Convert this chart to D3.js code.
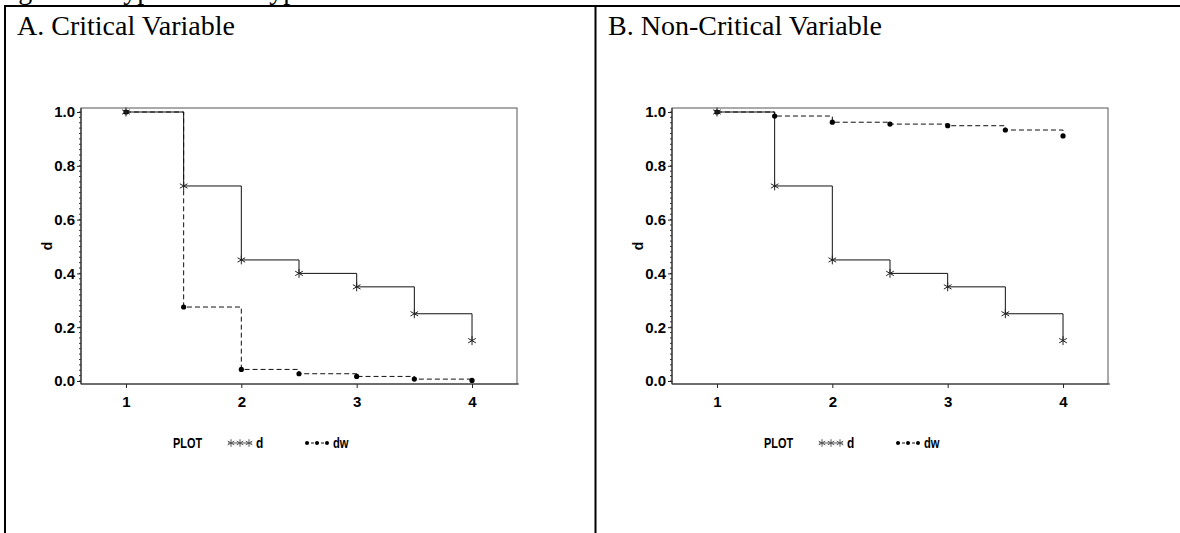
<!DOCTYPE html>
<html>
<head>
<meta charset="utf-8">
<script src="https://cdn.jsdelivr.net/npm/d3@7"></script>
<style>
  html, body { margin: 0; padding: 0; background: #fff; }
  svg { display: block; }
</style>
</head>
<body>
<svg id="chart" width="1180" height="533"></svg>
<script>
// ---- data ----
const xValues = [1, 1.5, 2, 2.5, 3, 3.5, 4];
const dValues = [1.0, 0.725, 0.45, 0.40, 0.35, 0.25, 0.15];
const dwCritical = [1.0, 0.275, 0.043, 0.027, 0.017, 0.007, 0.002];
const dwNonCritical = [1.0, 0.985, 0.962, 0.955, 0.949, 0.933, 0.911];
const xTicks = [1, 2, 3, 4];
const yTicks = [0, 0.2, 0.4, 0.6, 0.8, 1.0];
const yMinorTicks = d3.range(0, 51).map(i => i / 50);
const panelTitles = ["A. Critical Variable", "B. Non-Critical Variable"];
const captionText = "Figure 1. Hypothetical Type Plots of d and dw";
const yLabel = "d";
const legendTitle = "PLOT";
const seriesNames = ["d", "dw"];

const svg = d3.select("#chart");

// cut-off caption at the very top
svg.append("text")
  .attr("x", -5).attr("y", -1)
  .attr("font-family", "'Liberation Serif', 'Times New Roman', serif")
  .attr("font-size", 28)
  .text(captionText);

// table borders
const border = svg.append("g").attr("stroke", "#000").attr("stroke-width", 2).attr("fill", "none");
border.append("line").attr("x1", 4).attr("x2", 1180).attr("y1", 6).attr("y2", 6);
border.append("line").attr("x1", 5).attr("x2", 5).attr("y1", 5).attr("y2", 533);
border.append("line").attr("x1", 595.5).attr("x2", 595.5).attr("y1", 5).attr("y2", 533);

const panels = [
  { title: panelTitles[0], dw: dwCritical, off: 0 },
  { title: panelTitles[1], dw: dwNonCritical, off: 591 }
];

const plotW = 436, plotH = 276;
const x = d3.scaleLinear().domain([0.61, 4.39]).range([0, plotW]);
const y = d3.scaleLinear().domain([0, 1]).range([273, 4]);

const sansFont = "'Liberation Sans', Arial, Helvetica, sans-serif";
const starSym = d3.symbol(d3.symbolAsterisk, 55);

panels.forEach(p => {
  // panel title
  svg.append("text")
    .attr("x", 17 + p.off).attr("y", 35)
    .attr("font-family", "'Liberation Serif', 'Times New Roman', serif")
    .attr("font-size", 28)
    .text(p.title);

  const g = svg.append("g").attr("transform", `translate(${81 + p.off},108)`);

  // frame
  g.append("rect")
    .attr("x", 0).attr("y", 0).attr("width", plotW).attr("height", plotH)
    .attr("fill", "none").attr("stroke", "#555").attr("stroke-width", 1);

  // y axis minor ticks
  g.append("g").selectAll("line").data(yMinorTicks).join("line")
    .attr("x1", -2).attr("x2", 0)
    .attr("y1", d => y(d)).attr("y2", d => y(d))
    .attr("stroke", "#333").attr("stroke-width", 1);

  // y axis
  const ya = g.append("g")
    .call(d3.axisLeft(y).tickValues(yTicks).tickFormat(d3.format(".1f")).tickSize(4).tickPadding(2));
  ya.select(".domain").remove();
  ya.selectAll("line").attr("stroke", "#222");
  ya.selectAll("text").attr("font-family", sansFont).attr("font-weight", "bold").attr("font-size", 15).attr("fill", "#000");

  g.append("line").attr("x1", 0).attr("x2", 0).attr("y1", 0).attr("y2", plotH)
    .attr("stroke", "#333").attr("stroke-width", 1.2);

  // x axis
  const xa = g.append("g").attr("transform", `translate(0,${plotH})`)
    .call(d3.axisBottom(x).tickValues(xTicks).tickFormat(d3.format("d")).tickSize(4).tickPadding(8));
  xa.select(".domain").remove();
  xa.selectAll("line").attr("stroke", "#222");
  xa.selectAll("text").attr("font-family", sansFont).attr("font-weight", "bold").attr("font-size", 15).attr("fill", "#000");
  g.append("line").attr("x1", 0).attr("x2", plotW + 2).attr("y1", plotH).attr("y2", plotH)
    .attr("stroke", "#333").attr("stroke-width", 1.2);

  // y axis label
  g.append("text")
    .attr("transform", `translate(-29,${138}) rotate(-90)`)
    .attr("text-anchor", "middle")
    .attr("font-family", sansFont).attr("font-weight", "bold").attr("font-size", 14)
    .text(yLabel);

  const line = d3.line().x((d, i) => x(xValues[i])).y(d => y(d)).curve(d3.curveStepAfter);

  // dw series (dashed, dots)
  g.append("path").datum(p.dw)
    .attr("d", line)
    .attr("fill", "none").attr("stroke", "#111").attr("stroke-width", 1)
    .attr("stroke-dasharray", "5,3");

  // d series (solid, stars)
  g.append("path").datum(dValues)
    .attr("d", line)
    .attr("fill", "none").attr("stroke", "#111").attr("stroke-width", 1);

  g.append("g").selectAll("circle").data(p.dw).join("circle")
    .attr("cx", (d, i) => x(xValues[i])).attr("cy", d => y(d))
    .attr("r", 2.6).attr("fill", "#000");

  g.append("g").selectAll("path").data(dValues).join("path")
    .attr("transform", (d, i) => `translate(${x(xValues[i])},${y(d)})`)
    .attr("d", starSym)
    .attr("fill", "none").attr("stroke", "#222").attr("stroke-width", 1);

  // legend
  const lg = svg.append("g").attr("transform", `translate(${p.off},0)`);
  lg.append("text")
    .attr("transform", "translate(173,448) scale(0.78,1)")
    .attr("font-family", sansFont).attr("font-weight", "bold").attr("font-size", 14)
    .text(legendTitle);
  lg.append("line").attr("x1", 228).attr("x2", 252).attr("y1", 443).attr("y2", 443)
    .attr("stroke", "#555").attr("stroke-width", 1);
  [231, 240, 249].forEach(cx => {
    lg.append("path").attr("transform", `translate(${cx},443)`).attr("d", d3.symbol(d3.symbolAsterisk, 40))
      .attr("fill", "none").attr("stroke", "#555").attr("stroke-width", 1);
  });
  lg.append("text")
    .attr("transform", "translate(256,448) scale(0.85,1)")
    .attr("font-family", sansFont).attr("font-weight", "bold").attr("font-size", 14)
    .text(seriesNames[0]);
  lg.append("line").attr("x1", 306).attr("x2", 328).attr("y1", 443).attr("y2", 443)
    .attr("stroke", "#111").attr("stroke-width", 1).attr("stroke-dasharray", "3,2");
  [307, 317, 327].forEach(cx => {
    lg.append("circle").attr("cx", cx).attr("cy", 443).attr("r", 2).attr("fill", "#000");
  });
  lg.append("text")
    .attr("transform", "translate(333,448) scale(0.8,1)")
    .attr("font-family", sansFont).attr("font-weight", "bold").attr("font-size", 14)
    .text(seriesNames[1]);
});
</script>
</body>
</html>
